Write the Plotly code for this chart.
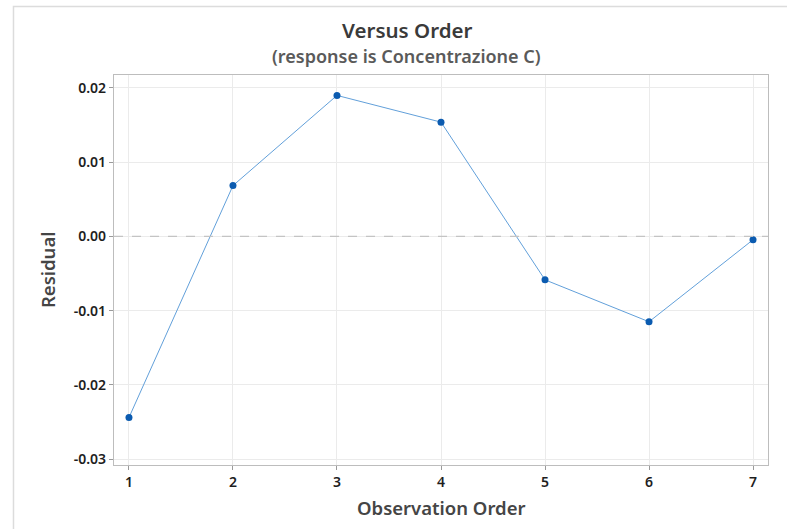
import plotly.graph_objects as go

order = [1, 2, 3, 4, 5, 6, 7]
residuals = [-0.0244, 0.00685, 0.0190, 0.0154, -0.00585, -0.0115, -0.00045]
y_ticks = [0.02, 0.01, 0.00, -0.01, -0.02, -0.03]
y_tick_labels = ["0.02", "0.01", "0.00", "-0.01", "-0.02", "-0.03"]

FONT = "Noto Sans"

fig = go.Figure()
fig.add_trace(go.Scatter(
    x=order, y=residuals, mode="lines+markers",
    line=dict(color="#62a0da", width=1),
    marker=dict(color="#0b5bb0", size=7),
    showlegend=False, hoverinfo="skip",
))

tickfont = dict(size=14, color="#1e1e1e", family=FONT, weight=600)

fig.update_layout(
    width=787, height=529,
    margin=dict(l=114, r=19, t=75, b=64),
    paper_bgcolor="white", plot_bgcolor="white",
    font=dict(family=FONT, color="#222"),
    xaxis=dict(
        range=[0.856, 7.144], tickmode="array", tickvals=order,
        ticktext=[str(v) for v in order],
        showgrid=True, gridcolor="#ebebeb", gridwidth=1,
        zeroline=False, showline=True, linecolor="#bdbdbd", linewidth=1.2,
        mirror=True, ticks="outside", ticklen=4, tickcolor="#9a9a9a",
        tickfont=tickfont,
    ),
    yaxis=dict(
        range=[-0.0308, 0.02175], tickmode="array", tickvals=y_ticks,
        ticktext=y_tick_labels,
        showgrid=True, gridcolor="#ebebeb", gridwidth=1,
        zeroline=False, showline=True, linecolor="#bdbdbd", linewidth=1.2,
        mirror=True, ticks="outside", ticklen=4, tickcolor="#9a9a9a",
        tickfont=tickfont,
    ),
    shapes=[
        dict(type="line", xref="paper", yref="y", x0=0, x1=1, y0=0, y1=0,
             line=dict(color="#c4c4c4", width=1.2, dash="dash"), layer="above"),
        dict(type="rect", xref="paper", yref="paper",
             x0=-0.1537, x1=1.2, y0=-0.25, y1=1.1756,
             line=dict(color="#dcdcdc", width=1.5), layer="below"),
    ],
    annotations=[
        dict(text="Versus Order", xref="paper", yref="paper", x=0.448, y=1.1154,
             showarrow=False, xanchor="center", yanchor="middle",
             font=dict(size=20.5, color="#3a3a3a", family=FONT, weight=600)),
        dict(text="(response is Concentrazione C)", xref="paper", yref="paper",
             x=0.448, y=1.0487, showarrow=False, xanchor="center", yanchor="middle",
             font=dict(size=18, color="#5a5a5a", family=FONT, weight=600)),
        dict(text="Observation Order", xref="paper", yref="paper", x=0.5, y=-0.1077,
             showarrow=False, xanchor="center", yanchor="middle",
             font=dict(size=18.5, color="#454545", family=FONT, weight=600)),
        dict(text="Residual", xref="paper", yref="paper", x=-0.1024, y=0.5,
             showarrow=False, xanchor="center", yanchor="middle", textangle=-90,
             font=dict(size=18.5, color="#454545", family=FONT, weight=600)),
    ],
)

fig.write_html("out.html")
